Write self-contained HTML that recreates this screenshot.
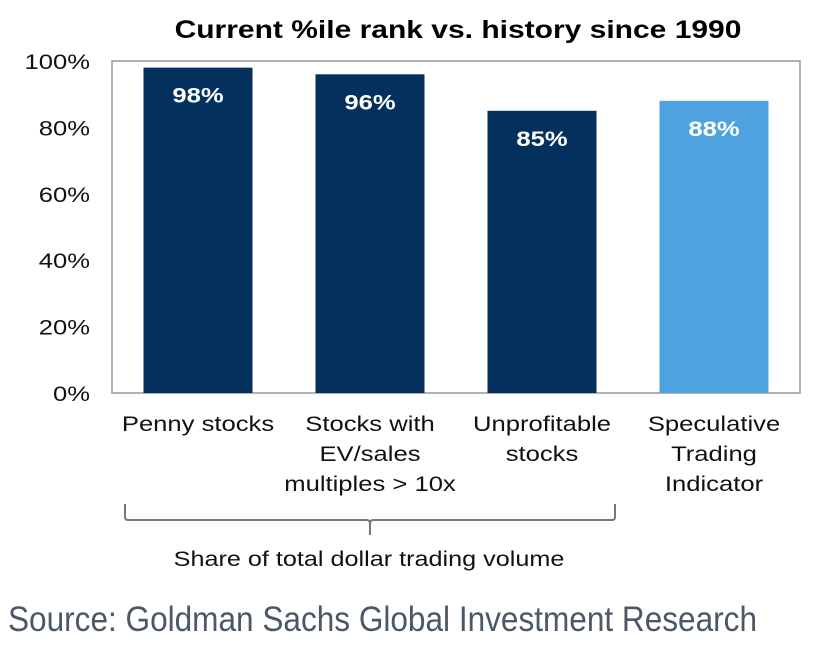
<!DOCTYPE html>
<html><head><meta charset="utf-8"><style>
body{margin:0;background:#fff;width:817px;height:644px;overflow:hidden}
svg text{font-family:"Liberation Sans",sans-serif}
</style></head><body>
<svg width="817" height="644">
<text transform="translate(458,38) scale(1.2,1)" text-anchor="middle" font-size="25" font-weight="bold" fill="#000">Current %ile rank vs. history since 1990</text>
<rect x="112" y="61" width="688" height="332" fill="none" stroke="#999" stroke-width="1.5"/>
<g id="yaxis"></g>
<g id="bars"></g>
<g id="xlabels"></g>
<path d="M125 504 V517 Q125 520 128 520 H367 Q370 520 370 524 V535 M370 524 Q370 520 373 520 H612 Q615 520 615 517 V504" fill="none" stroke="#777" stroke-width="2"/>
<text transform="translate(369,566) scale(1.2,1)" text-anchor="middle" font-size="21" fill="#111">Share of total dollar trading volume</text>
<text x="8" y="631" font-size="35" fill="#4b5866" textLength="749" lengthAdjust="spacingAndGlyphs">Source: Goldman Sachs Global Investment Research</text>
</svg>
<script>
const categories=[["Penny stocks"],["Stocks with","EV/sales","multiples > 10x"],["Unprofitable","stocks"],["Speculative","Trading","Indicator"]];
const values=[98,96,85,88];
const colors=["#03305c","#03305c","#03305c","#4ea3e0"];
const yTicks=[0,20,40,60,80,100];
const NS="http://www.w3.org/2000/svg";
const L=112,R=800,T=61,B=393,SX=1.22;
const y=v=>B-(v/100)*(B-T);
const slot=(R-L)/categories.length;
const xc=i=>L+slot*(i+0.5);
function mk(tag,attrs,parent,txt){const e=document.createElementNS(NS,tag);for(const k in attrs)e.setAttribute(k,attrs[k]);if(txt!==undefined)e.textContent=txt;parent.appendChild(e);return e;}
function tx(x,yy,attrs,parent,txt){attrs.transform=`translate(${x},${yy}) scale(${SX},1)`;return mk('text',attrs,parent,txt);}
const ya=document.getElementById('yaxis');
yTicks.forEach(t=>{const e=tx(90,y(t)+8,{'text-anchor':'end','font-size':21,fill:'#111'},ya,t+'%');

});
const bg=document.getElementById('bars');
const xl=document.getElementById('xlabels');
values.forEach((v,i)=>{const w=109;
const r=mk('rect',{x:xc(i)-w/2,y:y(v),width:w,height:B-y(v),fill:colors[i]},bg);


const t=tx(xc(i),y(v)+35,{'text-anchor':'middle','font-size':21,'font-weight':'bold',fill:'#fff'},bg,v+'%');


categories[i].forEach((ln,j)=>{const c=tx(xc(i),431+j*30,{'text-anchor':'middle','font-size':21,fill:'#111'},xl,ln);

});
});
</script>
</body></html>
